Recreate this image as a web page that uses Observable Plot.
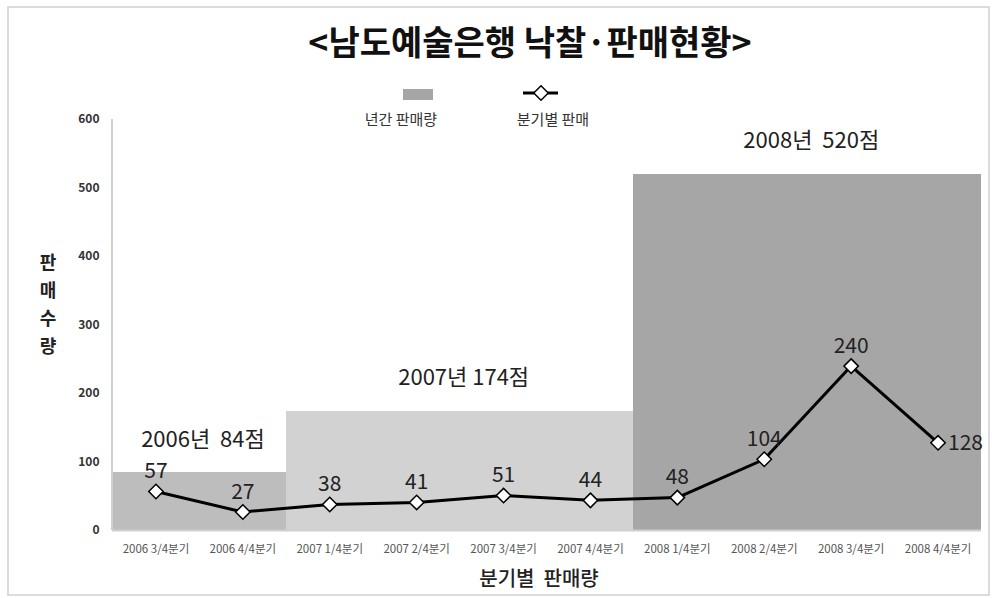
<!DOCTYPE html>
<html>
<head>
<meta charset="utf-8">
<script src="https://cdn.jsdelivr.net/npm/d3@7"></script>
<script src="https://cdn.jsdelivr.net/npm/@observablehq/plot@0.6"></script>
<style>
  html, body { margin: 0; padding: 0; background: #fff; }
  #chart { width: 992px; height: 598px; }
  svg { font-family: "Noto Sans CJK KR", "Noto Sans", sans-serif; }
</style>
</head>
<body>
<div id="chart"></div>
<script>
// ---- data ----
const quarters = ["2006 3/4분기", "2006 4/4분기", "2007 1/4분기", "2007 2/4분기", "2007 3/4분기",
                  "2007 4/4분기", "2008 1/4분기", "2008 2/4분기", "2008 3/4분기", "2008 4/4분기"];
const quarterSales = [57, 27, 38, 41, 51, 44, 48, 104, 240, 128];
const quarterYear = ["2006", "2006", "2007", "2007", "2007", "2007", "2008", "2008", "2008", "2008"];
const years = ["2006", "2007", "2008"];
const yearTotals = [84, 174, 520];
const yearLabels = ["2006년\u00a0 84점", "2007년 174점", "2008년\u00a0 520점"];
const yearLabelAnchor = ["2006 3/4분기", "2007 2/4분기", "2008 2/4분기"]; // quarter left of each block's middle
const yTicks = [0, 100, 200, 300, 400, 500, 600];
const yearColors = ["#bdbdbd", "#d2d2d2", "#a6a6a6"];

const title = "<남도예술은행 낙찰·판매현황>";
const xTitle = "분기별  판매량";
const yTitle = "판매수량";
const legendBar = "년간 판매량";
const legendLine = "분기별 판매";

// ---- tables ----
const quarterRows = quarters.map((q, i) => ({
  q, sales: quarterSales[i], year: quarterYear[i],
  total: yearTotals[years.indexOf(quarterYear[i])]
}));
const yearRows = years.map((y, i) => ({
  year: y, total: yearTotals[i], label: yearLabels[i], anchor: yearLabelAnchor[i]
}));
const lastRow = quarterRows.slice(-1);
const otherRows = quarterRows.slice(0, -1);

const W = 992, H = 598;
const plot = Plot.plot({
  width: W, height: H,
  marginLeft: 112, marginRight: 11, marginTop: 119, marginBottom: 68,
  style: { fontFamily: '"Noto Sans CJK KR", "Noto Sans", sans-serif', background: "#fff", overflow: "visible" },
  x: { type: "band", domain: quarters, padding: 0, round: false, label: null },
  y: { domain: [0, 600], label: null },
  color: { domain: years, range: yearColors },
  marks: [
    Plot.barY(quarterRows, { x: "q", y: "total", fill: "year", inset: 0, shapeRendering: "crispEdges" }),
    Plot.ruleY([0], { stroke: "#cfcfcf", strokeWidth: 2 }),
    Plot.axisY({ ticks: yTicks, tickSize: 0, tickPadding: 13, fontSize: 12, fontWeight: 600, fill: "#333", label: null }),
    Plot.axisX({ tickSize: 0, tickPadding: 14, fontSize: 11.5, fill: "#555", label: null }),
    Plot.text(yearRows, { x: "anchor", y: "total", text: "label", dx: 47, dy: -33, fontSize: 22, fill: "#222" }),
    Plot.line(quarterRows, { x: "q", y: "sales", stroke: "#000", strokeWidth: 3 }),
    Plot.dot(quarterRows, { x: "q", y: "sales", symbol: "diamond2", r: 6.5, fill: "#fff", stroke: "#000", strokeWidth: 1.5 }),
    Plot.text(otherRows, { x: "q", y: "sales", text: d => String(d.sales), dy: -20, fontSize: 21, fill: "#222" }),
    Plot.text(lastRow, { x: "q", y: "sales", text: d => String(d.sales), dx: 10, textAnchor: "start", fontSize: 21, fill: "#222" })
  ]
});

const svg = d3.select(plot);
const ys = plot.scale("y"), xs = plot.scale("x");
// left axis line
svg.append("line")
  .attr("x1", xs.range[0]).attr("x2", xs.range[0])
  .attr("y1", ys.apply(600)).attr("y2", ys.apply(0))
  .attr("stroke", "#cfcfcf").attr("stroke-width", 2);
// outer frame
svg.insert("rect", ":first-child")
  .attr("x", 8).attr("y", 7).attr("width", 981).attr("height", 588)
  .attr("fill", "#fff").attr("stroke", "#d0d0d0").attr("stroke-width", 1.5);
// title
svg.append("text").attr("x", 530).attr("y", 55).attr("text-anchor", "middle")
  .attr("font-size", 34).attr("font-weight", "bold").attr("fill", "#111").text(title);
// legend
svg.append("rect").attr("x", 403).attr("y", 89).attr("width", 30).attr("height", 11).attr("fill", "#a6a6a6");
svg.append("text").attr("x", 401).attr("y", 125).attr("text-anchor", "middle")
  .attr("font-size", 15).attr("fill", "#333").text(legendBar);
svg.append("line").attr("x1", 523).attr("x2", 558).attr("y1", 93).attr("y2", 93)
  .attr("stroke", "#000").attr("stroke-width", 3);
svg.append("path").attr("transform", "translate(541,93)")
  .attr("d", d3.symbol(d3.symbolDiamond2, Math.PI * 6.5 * 6.5)())
  .attr("fill", "#fff").attr("stroke", "#000").attr("stroke-width", 1.5);
svg.append("text").attr("x", 553).attr("y", 125).attr("text-anchor", "middle")
  .attr("font-size", 15).attr("fill", "#333").text(legendLine);
// axis titles
svg.append("text").attr("x", 539).attr("y", 586).attr("text-anchor", "middle")
  .attr("font-size", 20).attr("font-weight", 500).attr("fill", "#222").text(xTitle);
const yt = svg.append("text").attr("x", 48).attr("text-anchor", "middle")
  .attr("font-size", 18).attr("font-weight", 600).attr("fill", "#222");
Array.from(yTitle).forEach((ch, i) => {
  yt.append("tspan").attr("x", 48).attr("y", 269 + i * 28).text(ch);
});

document.getElementById("chart").appendChild(plot);
</script>
</body>
</html>
